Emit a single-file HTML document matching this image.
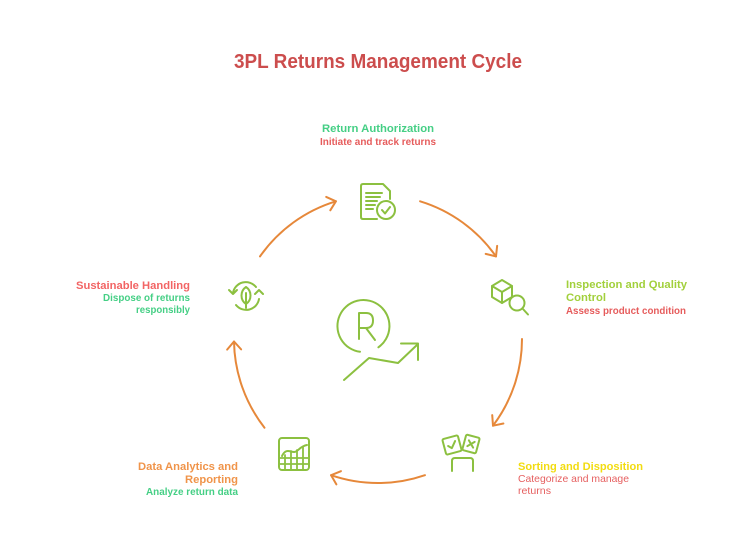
<!DOCTYPE html>
<html>
<head>
<meta charset="utf-8">
<style>
  html,body{margin:0;padding:0;background:#fff;}
  svg{display:block;}
  text{font-family:"Liberation Sans",sans-serif;}
</style>
</head>
<body>
<svg width="756" height="535" viewBox="0 0 756 535" xmlns="http://www.w3.org/2000/svg">
  <defs>
    <marker id="ah" markerUnits="userSpaceOnUse" markerWidth="20" markerHeight="20" refX="10" refY="10" orient="auto">
      <path d="M2,3 L10,10 L2,17" fill="none" stroke="#e6883a" stroke-width="2" stroke-linecap="round" stroke-linejoin="round"/>
    </marker>
  </defs>
  <rect width="756" height="535" fill="#fff"/>

  <!-- Title -->
  <text x="378" y="68" text-anchor="middle" font-size="20" font-weight="bold" fill="#cc4d4d" textLength="288" lengthAdjust="spacingAndGlyphs">3PL Returns Management Cycle</text>

  <!-- Cycle arrows (center 378,339 r144) -->
  <g fill="none" stroke="#e6883a" stroke-width="2" stroke-linecap="round" marker-end="url(#ah)">
    <path d="M260,256.4 A144,144 0 0 1 335.9,201.3"/>
    <path d="M420.1,201.3 A144,144 0 0 1 496,256.4"/>
    <path d="M522,339 A144,144 0 0 1 493,425.7"/>
    <path d="M424.9,475.2 A144,144 0 0 1 331.1,475.2"/>
    <path d="M264.5,427.7 A144,144 0 0 1 234,341.5"/>
  </g>

  <!-- Labels -->
  <g font-weight="bold" font-size="11">
    <text x="378" y="132" text-anchor="middle" fill="#45cf85" textLength="112" lengthAdjust="spacingAndGlyphs">Return Authorization</text>
    <text x="378" y="145" text-anchor="middle" fill="#e65c5c" font-size="10.5" textLength="116" lengthAdjust="spacingAndGlyphs">Initiate and track returns</text>

    <text x="566" y="288" fill="#a2d03c" textLength="121" lengthAdjust="spacingAndGlyphs">Inspection and Quality</text>
    <text x="566" y="301" fill="#a2d03c" textLength="40" lengthAdjust="spacingAndGlyphs">Control</text>
    <text x="566" y="314" fill="#e65c5c" font-size="10.5" textLength="120" lengthAdjust="spacingAndGlyphs">Assess product condition</text>

    <text x="518" y="470" fill="#f2dc10" textLength="125" lengthAdjust="spacingAndGlyphs">Sorting and Disposition</text>
    <text x="518" y="482" fill="#e66060" font-weight="normal" font-size="10.5" textLength="111" lengthAdjust="spacingAndGlyphs">Categorize and manage</text>
    <text x="518" y="494" fill="#e66060" font-weight="normal" font-size="10.5" textLength="33" lengthAdjust="spacingAndGlyphs">returns</text>

    <text x="238" y="470" text-anchor="end" fill="#f0944a" textLength="100" lengthAdjust="spacingAndGlyphs">Data Analytics and</text>
    <text x="238" y="483" text-anchor="end" fill="#f0944a" textLength="53" lengthAdjust="spacingAndGlyphs">Reporting</text>
    <text x="238" y="495" text-anchor="end" fill="#45cf85" font-size="10.5" textLength="92" lengthAdjust="spacingAndGlyphs">Analyze return data</text>

    <text x="190" y="289" text-anchor="end" fill="#f26464" textLength="114" lengthAdjust="spacingAndGlyphs">Sustainable Handling</text>
    <text x="190" y="301" text-anchor="end" fill="#45cf85" font-size="10.5" textLength="87" lengthAdjust="spacingAndGlyphs">Dispose of returns</text>
    <text x="190" y="313" text-anchor="end" fill="#45cf85" font-size="10.5" textLength="54" lengthAdjust="spacingAndGlyphs">responsibly</text>
  </g>

  <!-- Icons -->
  <g fill="none" stroke="#8cc040" stroke-width="2" stroke-linecap="round" stroke-linejoin="round">
    <!-- Document with check -->
    <path d="M377,219 L363,219 Q361,219 361,217 L361,186 Q361,184 363,184 L383,184 L390,191 L390,199"/>
    <path d="M366,193 L382,193 M366,197 L380,197 M366,201 L377,201 M366,205 L375,205 M366,209 L373,209"/>
    <circle cx="386" cy="210" r="9" fill="#fff"/>
    <path d="M382,210 L385,213.5 L390,207"/>

    <!-- Cube + magnifier -->
    <path d="M502,280 L512,286 L512,297 L502,303 L492,297 L492,286 Z"/>
    <path d="M492,286 L502,292 L512,286 M502,292 L502,303"/>
    <circle cx="517" cy="303" r="7.5" fill="#fff"/>
    <path d="M522.5,308.5 L528,314.5"/>

    <!-- Sorting: cards + tray -->
    <g transform="rotate(-15 452 445)">
      <rect x="444" y="437" width="16" height="16" rx="1.5" fill="#fff"/>
      <path d="M448,445 L451,448 L456,442"/>
    </g>
    <g transform="rotate(15 471 444)">
      <rect x="464" y="436" width="14" height="16" rx="1.5" fill="#fff"/>
      <path d="M468,441 L474,447 M474,441 L468,447"/>
    </g>
    <path d="M452,471 L452,461 Q452,458 455,458 L470,458 Q473,458 473,461 L473,471"/>

    <!-- Chart grid -->
    <rect x="279" y="438" width="30" height="32" rx="3"/>
    <path d="M282,456 C286,448 290,452 294,452 C298,452 300,446 307,445"/>
    <path d="M280,458 L308,458 M280,464 L308,464 M285,455 L285,469 M291,451 L291,469 M297,450 L297,469 M303,447 L303,469" stroke-width="1.8"/>

    <!-- Sustainable: recycle arrows + leaf -->
    <path d="M233,293 A13,13 0 0 1 256,287"/>
    <path d="M229,290 L233,294 L237,290"/>
    <path d="M259,299 A13,13 0 0 1 236,305"/>
    <path d="M255,294 L259,290 L263,294"/>
    <path d="M246,287 C252,291 252,300 246,304 C240,300 240,291 246,287 Z"/>
    <path d="M246,293 L246,308"/>

    <!-- Center R + graph -->
    <path d="M360,351.8 A26,26 0 1 1 378.4,347.3"/>
    <path d="M359,339 L359,313 L366,313 Q373,313 373,320.5 Q373,328 366,328 L359,328 M366,328 L375,340"/>
    <path d="M344,380 L369,358 L398,363 L418,344"/>
    <path d="M401,343.5 L418,343.5 L418,360"/>
  </g>
</svg>
</body>
</html>
